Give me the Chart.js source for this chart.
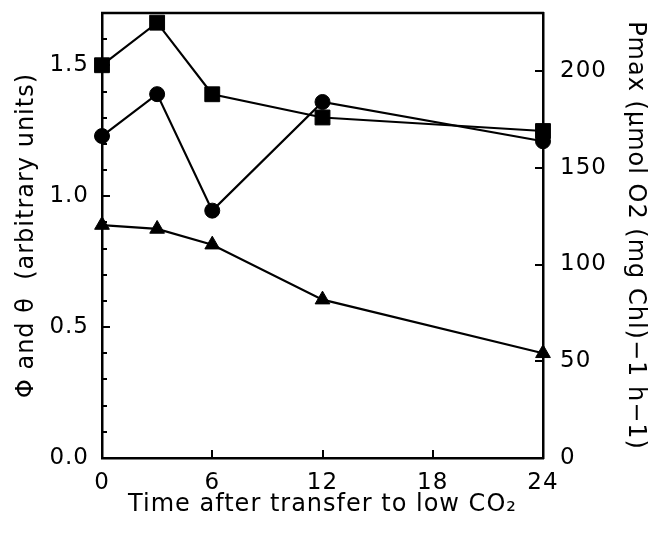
<!DOCTYPE html>
<html>
<head>
<meta charset="utf-8">
<script src="https://cdn.jsdelivr.net/npm/chart.js@4"></script>
<style>
  html, body { margin: 0; padding: 0; background: #fff; }
  #wrap { width: 652px; height: 541px; }
</style>
</head>
<body>
<div id="wrap"><canvas id="chartCO2"></canvas></div>
<script>
// hours after transfer to low CO2
const hours = [0, 3, 6, 12, 24];
// Pmax, right axis (squares)
const pmaxValues = [203, 225, 188, 176, 169];
// Phi, left axis (circles)
const phiValues = [1.23, 1.39, 0.945, 1.36, 1.21];
// theta, left axis (triangles)
const thetaValues = [0.89, 0.875, 0.815, 0.605, 0.40];

const xTicks = [0, 6, 12, 18, 24];
const leftTicks = [0, 0.1, 0.2, 0.3, 0.4, 0.5, 0.6, 0.7, 0.8, 0.9, 1.0, 1.1, 1.2, 1.3, 1.4, 1.5, 1.6];
const rightTicks = [0, 50, 100, 150, 200];

const FONT = "'DejaVu Sans', sans-serif";

function toPoints(values) {
    return hours.map((h, i) => ({ x: h, y: values[i] }));
}

function isMajor(v) {
    return Math.abs(v * 2 - Math.round(v * 2)) < 1e-6;
}

function series(label, values, style, radius, axis) {
    return {
        label: label,
        data: toPoints(values),
        yAxisID: axis,
        borderColor: '#000',
        backgroundColor: '#000',
        borderWidth: 2.2,
        pointStyle: style,
        pointRadius: radius,
        pointHoverRadius: radius,
        pointBackgroundColor: '#000',
        pointBorderColor: '#000',
        pointBorderWidth: 1,
        tension: 0,
        clip: false
    };
}

// fixed box for a vertical axis, no extra room for the end labels
function fitSide(width) {
    return s => {
        s.width = width;
        s.paddingTop = 0;
        s.paddingBottom = 0;
    };
}

// wider lettering for all the text on the canvas
const spacing = {
    id: 'spacing',
    beforeLayout(chart) { chart.ctx.letterSpacing = '1px'; },
    beforeDraw(chart) { chart.ctx.letterSpacing = '1px'; }
};

// inward tick marks and the top frame line
const frameTicks = {
    id: 'frameTicks',
    afterDraw(chart) {
        const ctx = chart.ctx;
        const area = chart.chartArea;
        const x = chart.scales.x, y = chart.scales.y, y1 = chart.scales.y1;
        ctx.save();
        ctx.strokeStyle = '#000';
        ctx.lineWidth = 2.5;
        ctx.beginPath();
        ctx.moveTo(area.left - 1, area.top);
        ctx.lineTo(area.right + 1, area.top);
        ctx.stroke();

        ctx.lineWidth = 2;
        ctx.beginPath();
        y.ticks.forEach(t => {
            const py = Math.round(y.getPixelForValue(t.value));
            ctx.moveTo(area.left, py);
            ctx.lineTo(area.left + (isMajor(t.value) ? 8 : 5), py);
        });
        y1.ticks.forEach(t => {
            const py = Math.round(y1.getPixelForValue(t.value));
            ctx.moveTo(area.right, py);
            ctx.lineTo(area.right - 8, py);
        });
        x.ticks.forEach(t => {
            const px = Math.round(x.getPixelForValue(t.value));
            ctx.moveTo(px, area.bottom);
            ctx.lineTo(px, area.bottom - 8);
        });
        ctx.stroke();
        ctx.restore();
    }
};

const ctx = document.getElementById('chartCO2');
new Chart(ctx, {
    type: 'line',
    data: {
        datasets: [
            series('Pmax', pmaxValues, 'rect', 10.5, 'y1'),
            series('\u03A6', phiValues, 'circle', 7.5, 'y'),
            series('\u03B8', thetaValues, 'triangle', 8.5, 'y')
        ]
    },
    options: {
        responsive: true,
        maintainAspectRatio: false,
        animation: false,
        events: [],
        layout: { padding: { top: 13, left: 0, right: 0, bottom: 0 } },
        plugins: {
            legend: { display: false },
            tooltip: { enabled: false }
        },
        scales: {
            x: {
                type: 'linear',
                min: 0,
                max: 24,
                afterBuildTicks: s => { s.ticks = xTicks.map(v => ({ value: v })); },
                afterFit: s => { s.height = 83; },
                grid: { display: false, drawTicks: false },
                border: { display: true, color: '#000', width: 2.5 },
                ticks: { color: '#000', padding: 11, autoSkip: false, maxRotation: 0, font: { family: FONT, size: 23 } },
                title: {
                    display: true,
                    text: 'Time after transfer to low CO\u2082',
                    color: '#000',
                    font: { family: FONT, size: 24 },
                    padding: { top: 0, bottom: 22 }
                }
            },
            y: {
                position: 'left',
                min: 0,
                max: 1.7,
                afterBuildTicks: s => { s.ticks = leftTicks.map(v => ({ value: v })); },
                afterFit: fitSide(102),
                grid: { display: false, drawTicks: false },
                border: { display: true, color: '#000', width: 2.5 },
                ticks: {
                    color: '#000',
                    padding: 13,
                    autoSkip: false,
                    font: { family: FONT, size: 23 },
                    callback: v => (isMajor(v) ? v.toFixed(1) : '')
                },
                title: {
                    display: true,
                    text: '\u03A6 and \u03B8  (arbitrary units)',
                    color: '#000',
                    font: { family: FONT, size: 24 },
                    padding: { top: 12, bottom: 0 }
                }
            },
            y1: {
                position: 'right',
                min: 0,
                max: 230,
                afterBuildTicks: s => { s.ticks = rightTicks.map(v => ({ value: v })); },
                afterFit: fitSide(109),
                grid: { display: false, drawTicks: false },
                border: { display: true, color: '#000', width: 2.5 },
                ticks: { color: '#000', padding: 17, autoSkip: false, font: { family: FONT, size: 23 } },
                title: {
                    display: true,
                    text: 'Pmax (\u03BCmol O2 (mg Chl)\u22121 h\u22121)',
                    color: '#000',
                    font: { family: FONT, size: 24 },
                    padding: { top: 2, bottom: 0 }
                }
            }
        }
    },
    plugins: [spacing, frameTicks]
});
</script>
</body>
</html>
